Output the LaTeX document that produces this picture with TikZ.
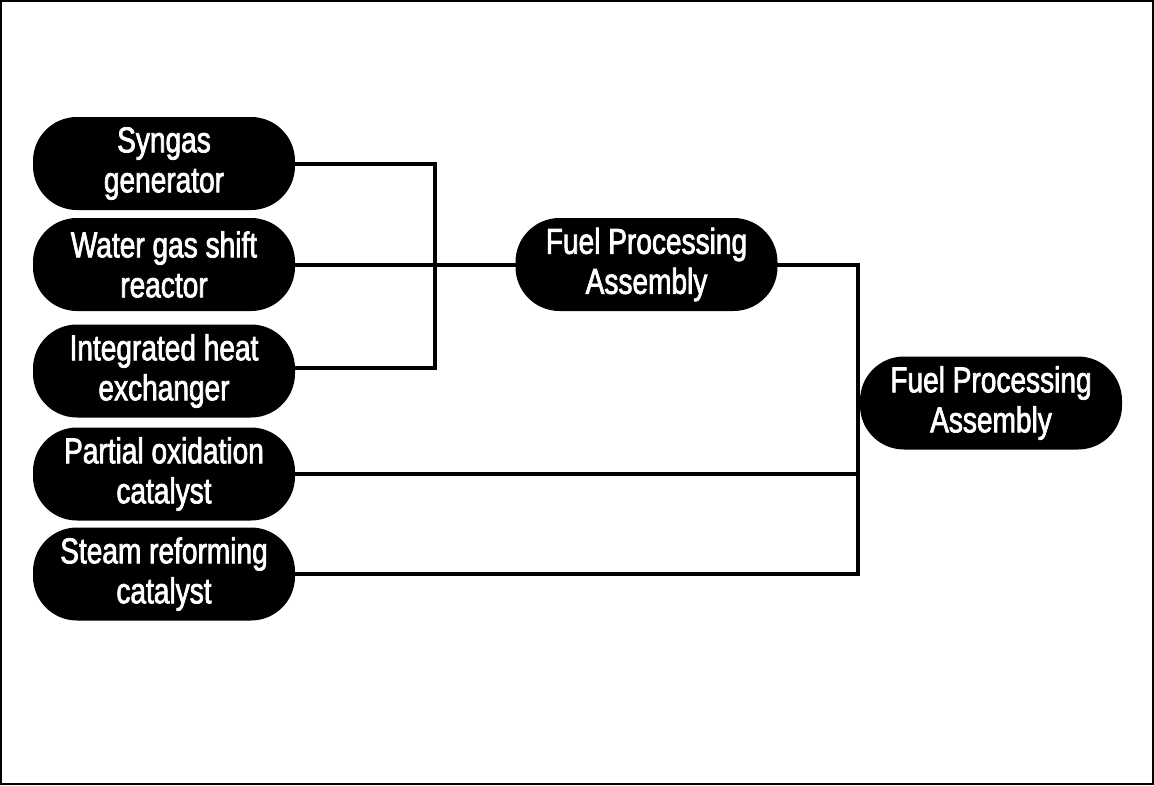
\documentclass[tikz,border=0pt]{standalone}
\usepackage{fontspec}
\setmainfont{Liberation Sans}[FakeStretch=0.78,FakeBold=2]
\begin{document}
\begin{tikzpicture}[x=1pt,y=-1pt,
  part/.style={fill=black,draw=none,text=white,rounded corners=44pt,
    minimum width=262pt,minimum height=93pt,inner sep=0pt,align=center,
    font=\fontsize{36}{40}\selectfont},
  link/.style={line width=4pt,line cap=rect}]
\useasboundingbox (0,0) rectangle (1154,785);
\draw[line width=2pt] (1,1) rectangle (1153,784);

% component parts
\node[part] (n1) at (164,163.5) {Syngas\\generator};
\node[part] (n2) at (164,264.5) {Water gas shift\\reactor};
\node[part] (n3) at (164,371) {Integrated heat\\exchanger};
\node[part] (n4) at (164,474) {Partial oxidation\\catalyst};
\node[part] (n5) at (164,574) {Steam reforming\\catalyst};

% assemblies
\node[part] (fpa1) at (646.5,264.5) {Fuel Processing\\Assembly};
\node[part] (fpa2) at (991,403) {Fuel Processing\\Assembly};

% junction columns
\coordinate (ja) at (435,264.5);
\coordinate (jb) at (858,403);

% first grouping
\draw[link] (n1.east) -| (ja) |- ([yshift=3pt]n3.east);
\draw[link] (n2.east) -- (fpa1.west);

% second grouping
\draw[link] (fpa1.east) -| (n5.east -| jb) -- (n5.east);
\draw[link] (n4.east) -- (n4.east -| jb);
\end{tikzpicture}
\end{document}
